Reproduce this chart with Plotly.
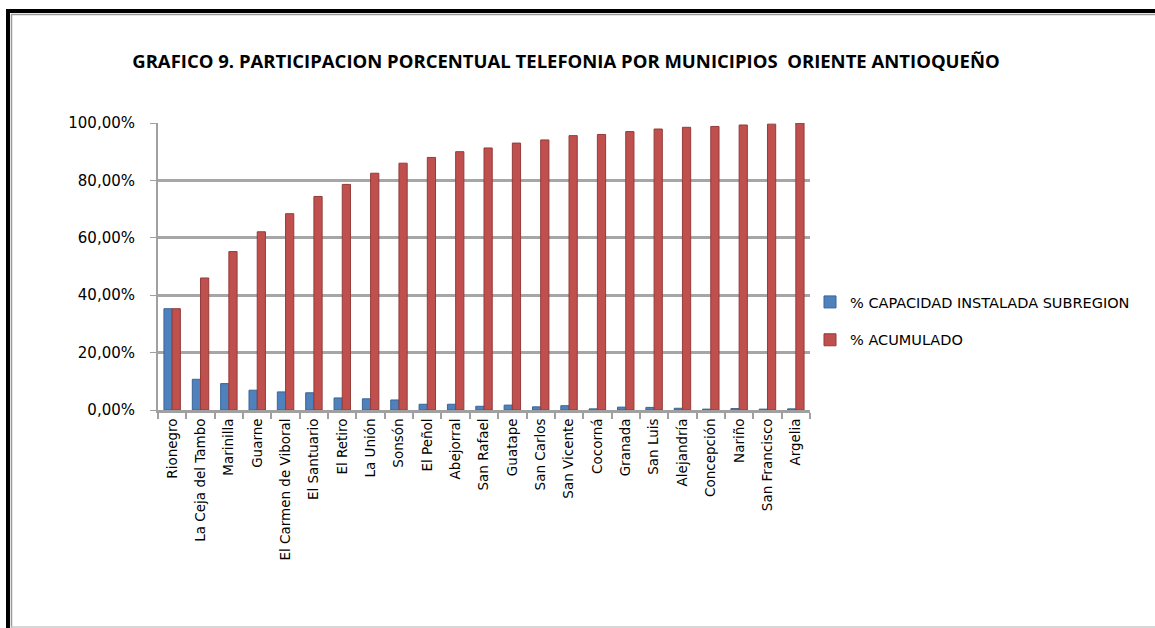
import plotly.graph_objects as go

municipios = ["Rionegro", "La Ceja del Tambo", "Marinilla", "Guarne", "El Carmen de Viboral",
              "El Santuario", "El Retiro", "La Unión", "Sonsón", "El Peñol", "Abejorral",
              "San Rafael", "Guatape", "San Carlos", "San Vicente", "Cocorná", "Granada",
              "San Luis", "Alejandría", "Concepción", "Nariño", "San Francisco", "Argelia"]

capacidad = [0.353, 0.107, 0.092, 0.069, 0.063, 0.060, 0.042, 0.039, 0.035, 0.020, 0.020,
             0.013, 0.017, 0.011, 0.015, 0.004, 0.010, 0.009, 0.006, 0.003, 0.005, 0.003, 0.004]

acumulado = [0.353, 0.460, 0.552, 0.621, 0.684, 0.744, 0.786, 0.825, 0.860, 0.880, 0.900,
             0.913, 0.930, 0.941, 0.956, 0.960, 0.970, 0.979, 0.985, 0.988, 0.993, 0.996, 1.000]

y_ticks = [0, 0.2, 0.4, 0.6, 0.8, 1.0]

W, H = 1155, 628
L, R, T, B = 158, 810, 123, 410


def px_x(x):
    return (x - L) / (R - L)


def px_y(y):
    return (B - y) / (B - T)


fig = go.Figure()
fig.add_trace(go.Bar(
    x=municipios, y=capacidad, name="% CAPACIDAD INSTALADA SUBREGION",
    marker=dict(color="#4F81BD", line=dict(color="#3A6597", width=1)),
    legendgroup="a",
))
fig.add_trace(go.Bar(
    x=municipios, y=acumulado, name="% ACUMULADO",
    marker=dict(color="#C0504D", line=dict(color="#943B39", width=1)),
    legendgroup="b",
))

shapes = [
    # outer black frame (top and left)
    dict(type="line", xref="paper", yref="paper", x0=px_x(6), x1=px_x(1160), y0=px_y(11), y1=px_y(11),
         line=dict(color="black", width=4)),
    dict(type="line", xref="paper", yref="paper", x0=px_x(8), x1=px_x(8), y0=px_y(9), y1=px_y(640),
         line=dict(color="black", width=4)),
    # inner gray frame
    dict(type="line", xref="paper", yref="paper", x0=px_x(11), x1=px_x(1160), y0=px_y(14.5), y1=px_y(14.5),
         line=dict(color="#9A9A9A", width=1.5)),
    dict(type="line", xref="paper", yref="paper", x0=px_x(11.5), x1=px_x(11.5), y0=px_y(14), y1=px_y(640),
         line=dict(color="#9A9A9A", width=1.5)),
    dict(type="line", xref="paper", yref="paper", x0=px_x(11), x1=px_x(1160), y0=px_y(627), y1=px_y(627),
         line=dict(color="#C8C8C8", width=1.5)),
]

fig.update_layout(
    width=W, height=H,
    margin=dict(l=L, r=W - R, t=T, b=H - B, pad=0),
    paper_bgcolor="white", plot_bgcolor="white",
    separators=",.",
    barmode="group", bargap=0.42, bargroupgap=0.0,
    title=dict(text="<b>GRAFICO 9. PARTICIPACION PORCENTUAL TELEFONIA POR MUNICIPIOS  ORIENTE ANTIOQUEÑO</b>",
               x=566 / W, xanchor="center", y=1 - 62 / H, yanchor="middle",
               font=dict(family="Open Sans", size=18.5, color="black")),
    font=dict(family="DejaVu Sans", color="black"),
    legend=dict(x=px_x(810), xanchor="left", y=px_y(321), yanchor="middle",
                font=dict(family="DejaVu Sans", size=14.5, color="black"),
                traceorder="grouped", tracegroupgap=16, bgcolor="rgba(0,0,0,0)",
                itemwidth=30),
    shapes=shapes,
    xaxis=dict(
        type="category", tickangle=-90, tickson="boundaries",
        ticks="outside", ticklen=6, tickcolor="#A0A0A0", tickwidth=1.5,
        showline=True, linecolor="#A0A0A0", linewidth=3,
        tickfont=dict(family="DejaVu Sans", size=13.5, color="black"),
        showgrid=False,
    ),
    yaxis=dict(
        range=[0, 1.0], tickvals=y_ticks, tickformat=".2%",
        ticks="outside", ticklen=6, tickcolor="#A0A0A0", ticklabelstandoff=12,
        showline=True, linecolor="#A0A0A0", linewidth=2,
        showgrid=True, gridcolor="#A6A6A6", gridwidth=3,
        zeroline=False,
        tickfont=dict(family="DejaVu Sans", size=15, color="black"),
    ),
)

fig.write_html("out.html", config={"displayModeBar": False},
               post_script="document.body.style.margin='0';document.body.style.overflow='hidden';")
